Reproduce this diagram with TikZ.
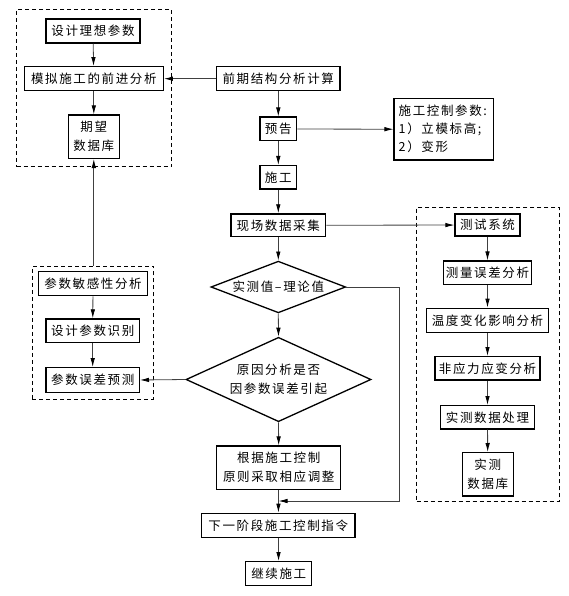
\documentclass[tikz,border=0pt]{standalone}
\usepackage{fontspec}
\setmainfont[LetterSpace=13]{Noto Sans CJK SC}
\usetikzlibrary{arrows.meta,shapes.geometric}
\begin{document}
\begin{tikzpicture}[x=1pt,y=-1pt,
  box/.style={draw,line width=1.3pt,inner sep=0pt,align=center,font=\fontsize{12.5}{19}\selectfont},
  dia/.style={draw,line width=1.3pt,diamond,inner sep=0pt,align=center,font=\fontsize{12.5}{19}\selectfont},
  grp/.style={draw,line width=0.7pt,dash pattern=on 4pt off 3pt,inner sep=0pt},
  arr/.style={draw=black!75,line width=0.8pt,-{Latex[length=9pt,width=4.5pt,color=black]}},
  ln/.style={draw=black!75,line width=0.8pt}]
\useasboundingbox (0,0) rectangle (569,596);
% groups
\node[grp,minimum width=155pt,minimum height=157.4pt] (G1) at (94.2,88) {};
\node[grp,minimum width=121pt,minimum height=133.3pt] (G2) at (92.8,332.7) {};
\node[grp,minimum width=142.6pt,minimum height=294.4pt] (G3) at (488,354.5) {};
% left top
\node[box,minimum width=94pt,minimum height=24pt] (d1) at (93,31) {设计理想参数};
\node[box,minimum width=139pt,minimum height=24pt] (m) at (93.8,78.7) {模拟施工的前进分析};
\node[box,minimum width=51pt,minimum height=43.3pt] (q) at (93.8,136.7) {期望\\数据库};
% center
\node[box,minimum width=123.3pt,minimum height=24pt] (p) at (278.3,78.7) {前期结构分析计算};
\node[box,minimum width=36.7pt,minimum height=23.7pt] (yg) at (278.3,129) {预告};
\node[box,minimum width=36.7pt,minimum height=23.3pt] (sg) at (278.3,177.3) {施工};
\node[box,minimum height=61.3pt,text width=90pt,inner xsep=4.6pt,align=left,font=\fontsize{12.5}{18}\selectfont] (cp) at (443.7,129.3) {施工控制参数:\\1）立模标高;\\2）变形};
\node[box,minimum width=94.7pt,minimum height=22.7pt] (xc) at (278.3,225.3) {现场数据采集};
\node[dia,shape aspect=2.6,minimum width=134.7pt,minimum height=51.7pt] (D1) at (278.3,287) {实测值–理论值};
\node[dia,shape aspect=2.19,minimum width=185pt,minimum height=84.4pt] (D2) at (278.5,379.5) {原因分析是否\\因参数误差引起};
\node[box,minimum width=124pt,minimum height=43.3pt] (gj) at (278.7,467.7) {根据施工控制\\原则采取相应调整};
\node[box,minimum width=153.3pt,minimum height=24pt] (xy) at (278.3,525.3) {下一阶段施工控制指令};
\node[box,minimum width=66pt,minimum height=24pt] (jx) at (278.7,573.7) {继续施工};
% right
\node[box,minimum width=65pt,minimum height=22pt] (cs) at (487.5,225) {测试系统};
\node[box,minimum width=88.4pt,minimum height=23.3pt] (cl) at (487.5,272.7) {测量误差分析};
\node[box,minimum width=121.6pt,minimum height=24.4pt] (wd) at (487.5,320.5) {温度变化影响分析};
\node[box,minimum width=105pt,minimum height=23.3pt] (fy) at (487.5,368.3) {非应力应变分析};
\node[box,minimum width=93.6pt,minimum height=23.3pt] (sc) at (487.5,417.3) {实测数据处理};
\node[box,minimum width=51pt,minimum height=43.3pt] (sk) at (487.8,474.3) {实测\\数据库};
% left bottom
\node[box,minimum width=109.4pt,minimum height=24pt] (s1) at (93,283.7) {参数敏感性分析};
\node[box,minimum width=93.3pt,minimum height=23.7pt] (s2) at (92.7,330.8) {设计参数识别};
\node[box,minimum width=93.3pt,minimum height=24.6pt] (s3) at (92.7,380) {参数误差预测};
% coordinates
\coordinate (fb) at (399,501);
\coordinate (j) at (278.5,501);
% connectors
\draw[arr] (d1) -- (m);
\draw[arr] (m) -- (q);
\draw[arr] (p) -- (m);
\draw[arr] (p) -- (yg);
\draw[arr] (yg) -- (cp);
\draw[arr] (yg) -- (sg);
\draw[arr] (sg) -- (xc);
\draw[arr] (xc) -- (cs);
\draw[arr] (xc) -- (D1);
\draw[arr] (D1.south) -- (D2.north);
\draw[arr] (D2.west) -- (s3.east);
\draw[arr] (D2.south) -- (gj.north);
\draw[arr] (gj) -- (xy);
\draw[arr] (D1.east) -| (fb) -- (j);
\draw[arr] (xy) -- (jx);
\draw[arr] (s1) -- (s2);
\draw[arr] (s2) -- (s3);
\draw[arr] (G2.north -| q.south) -- (q.south);
\draw[arr] (cs) -- (cl);
\draw[arr] (cl) -- (wd);
\draw[arr] (wd) -- (fy);
\draw[arr] (fy) -- (sc);
\draw[arr] (sc) -- (sk);
\end{tikzpicture}
\end{document}
